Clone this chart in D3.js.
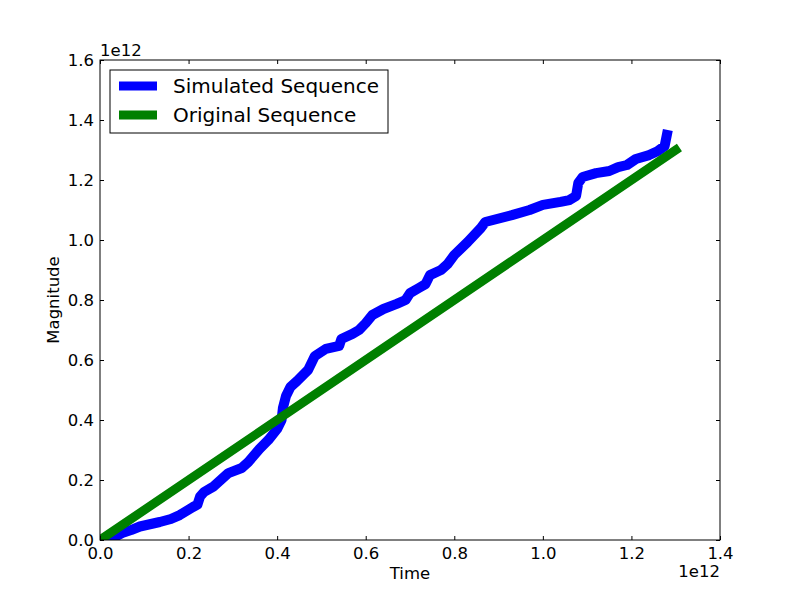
<!DOCTYPE html>
<html>
<head>
<meta charset="utf-8">
<script src="https://cdn.jsdelivr.net/npm/d3@7"></script>
<style>
  body { margin: 0; background: #fff; }
  text { font-family: "DejaVu Sans", sans-serif; fill: #000; }
</style>
</head>
<body>
<div id="chart"></div>
<script>
// values in units of 1e12
var simTime = [0.02, 0.05, 0.07, 0.09, 0.135, 0.16, 0.18, 0.21, 0.22, 0.226, 0.235, 0.255,
  0.29, 0.32, 0.335, 0.36, 0.38, 0.40, 0.41, 0.413, 0.42, 0.43, 0.445, 0.47, 0.485, 0.51,
  0.54, 0.545, 0.57, 0.585, 0.60, 0.615, 0.64, 0.67, 0.69, 0.70, 0.72, 0.735, 0.745, 0.77,
  0.785, 0.80, 0.83, 0.86, 0.87, 0.93, 0.97, 1.0, 1.04, 1.06, 1.075, 1.08, 1.09, 1.12,
  1.15, 1.17, 1.19, 1.21, 1.24, 1.26, 1.275, 1.28];
var simMag = [0.0, 0.023, 0.033, 0.045, 0.06, 0.07, 0.083, 0.11, 0.118, 0.145, 0.16, 0.177,
  0.223, 0.24, 0.26, 0.303, 0.333, 0.37, 0.40, 0.44, 0.48, 0.51, 0.53, 0.567, 0.613, 0.637,
  0.647, 0.67, 0.687, 0.70, 0.723, 0.75, 0.77, 0.787, 0.80, 0.823, 0.84, 0.853, 0.883, 0.90,
  0.92, 0.95, 0.993, 1.04, 1.06, 1.083, 1.10, 1.117, 1.127, 1.133, 1.147, 1.19, 1.21, 1.223,
  1.23, 1.243, 1.25, 1.27, 1.283, 1.297, 1.313, 1.35];
var origTime = [0, 1.3];
var origMag = [0, 1.3];
var xTicks = [0.0, 0.2, 0.4, 0.6, 0.8, 1.0, 1.2, 1.4];
var yTicks = [0.0, 0.2, 0.4, 0.6, 0.8, 1.0, 1.2, 1.4, 1.6];
var seriesNames = ["Simulated Sequence", "Original Sequence"];
var seriesColors = ["#0000ff", "#008000"];

var svgWidth = 800, svgHeight = 600;
var margin = { top: 60, right: 80, bottom: 60, left: 100 };
var width = svgWidth - margin.left - margin.right;
var height = svgHeight - margin.top - margin.bottom;
var fontSize = 16.5;

var svg = d3.select("#chart").append("svg")
  .attr("width", svgWidth)
  .attr("height", svgHeight);

var g = svg.append("g")
  .attr("transform", `translate(${margin.left}, ${margin.top})`);

var x = d3.scaleLinear().domain([0, 1.4]).range([0, width]);
var y = d3.scaleLinear().domain([0, 1.6]).range([height, 0]);

g.append("clipPath").attr("id", "clip")
  .append("rect").attr("width", width).attr("height", height);

var line = d3.line().x(d => x(d[0])).y(d => y(d[1]));

var plot = g.append("g").attr("clip-path", "url(#clip)");

plot.append("path")
  .datum(d3.zip(simTime, simMag))
  .attr("d", line)
  .attr("fill", "none")
  .attr("stroke", seriesColors[0])
  .attr("stroke-width", 10)
  .attr("stroke-linejoin", "round")
  .attr("stroke-linecap", "square");

plot.append("path")
  .datum(d3.zip(origTime, origMag))
  .attr("d", line)
  .attr("fill", "none")
  .attr("stroke", seriesColors[1])
  .attr("stroke-width", 9)
  .attr("stroke-linecap", "square");

// axes, ticks pointing inward on all four sides
var fmt = d3.format(".1f");
g.append("g").attr("transform", `translate(0, ${height})`)
  .call(d3.axisBottom(x).tickValues(xTicks).tickFormat(fmt).tickSizeInner(-4).tickSizeOuter(0).tickPadding(7));
g.append("g")
  .call(d3.axisTop(x).tickValues(xTicks).tickFormat("").tickSizeInner(-4).tickSizeOuter(0));
g.append("g")
  .call(d3.axisLeft(y).tickValues(yTicks).tickFormat(fmt).tickSizeInner(-4).tickSizeOuter(0).tickPadding(6));
g.append("g").attr("transform", `translate(${width}, 0)`)
  .call(d3.axisRight(y).tickValues(yTicks).tickFormat("").tickSizeInner(-4).tickSizeOuter(0));

g.selectAll(".domain").remove();
g.selectAll(".tick line").attr("stroke", "#000");
g.selectAll(".tick text").attr("font-size", fontSize).attr("font-family", "DejaVu Sans");

g.append("rect")
  .attr("width", width).attr("height", height)
  .attr("fill", "none").attr("stroke", "#000").attr("stroke-width", 1);

// offset texts
g.append("text").attr("x", 0).attr("y", -4).attr("font-size", fontSize).text("1e12");
g.append("text").attr("x", width).attr("y", height + 37).attr("text-anchor", "end")
  .attr("font-size", fontSize).text("1e12");

// axis labels
g.append("text").attr("x", width / 2).attr("y", height + 39)
  .attr("text-anchor", "middle").attr("font-size", fontSize).text("Time");
g.append("text").attr("transform", "rotate(-90)")
  .attr("x", -height / 2).attr("y", -41)
  .attr("text-anchor", "middle").attr("font-size", fontSize).text("Magnitude");

// legend
var legend = g.append("g").attr("transform", "translate(10, 10)");
legend.append("rect").attr("width", 278).attr("height", 63)
  .attr("fill", "#fff").attr("stroke", "#000").attr("stroke-width", 1);
seriesNames.forEach(function(name, i) {
  var ly = 16 + i * 29;
  legend.append("line").attr("x1", 9).attr("x2", 47).attr("y1", ly).attr("y2", ly)
    .attr("stroke", seriesColors[i]).attr("stroke-width", 9);
  legend.append("text").attr("x", 63).attr("y", ly + 7)
    .attr("font-size", 20).text(name);
});
</script>
</body>
</html>
